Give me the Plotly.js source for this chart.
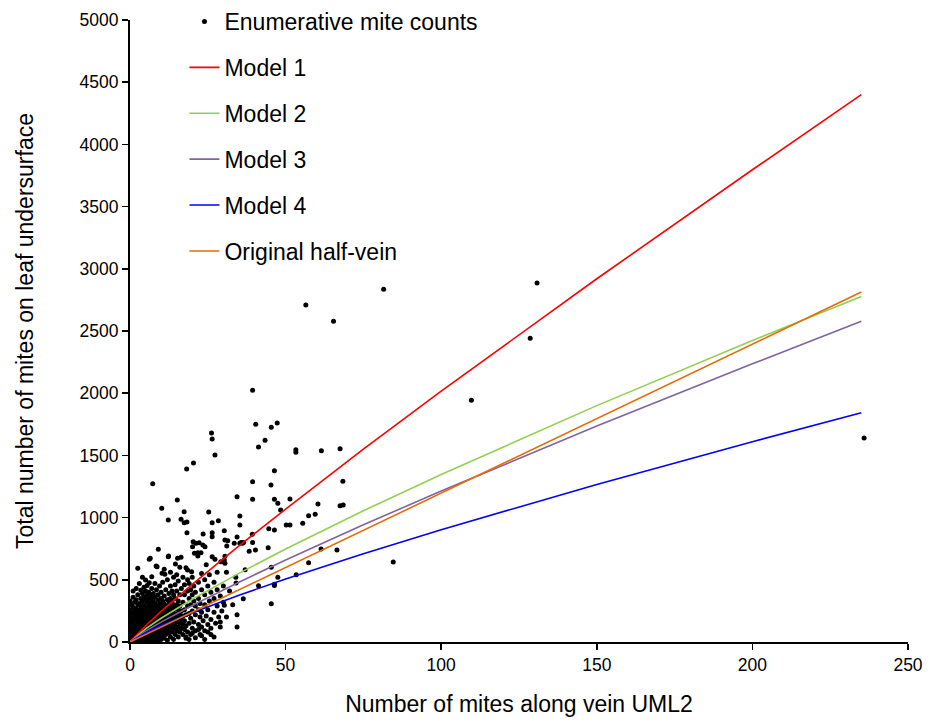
<!DOCTYPE html>
<html>
<head>
<meta charset="utf-8">
<script src="https://cdn.plot.ly/plotly-3.0.1.min.js"></script>
<style>html,body{margin:0;padding:0;background:#fff;}#chart{width:935px;height:723px;}</style>
</head>
<body>
<div id="chart"></div>
<script>
// Enumerative mite counts (x = mites along vein UML2, y = total mites on leaf undersurface)
const countPairs = [
[0,0],[0,20],[0,45],[0,80],[0,120],[0,160],[0,210],[0,260],[0,330],[0.5,10],[0.5,60],[0.5,100],[0.5,140],[0.5,190],[0.5,240],[0.5,300],
[1,0],[1,30],[1,70],[1,110],[1,150],[1,180],[1,230],[1,280],[1,360],[1,410],
[1.5,15],[1.5,50],[1.5,90],[1.5,130],[1.5,200],[1.5,250],[1.5,320],[2,5],[2,40],[2,75],[2,115],[2,170],[2,215],[2,270],[2,340],[2,430],
[2.5,25],[2.5,60],[2.5,95],[2.5,145],[2.5,190],[2.5,235],[2.5,300],[2.5,380],[2.5,592],
[3,10],[3,50],[3,85],[3,125],[3,165],[3,210],[3,255],[3,310],[3,470],[3.5,30],[3.5,70],[3.5,105],[3.5,150],[3.5,195],[3.5,240],[3.5,285],[3.5,350],[3.5,415],
[4,5],[4,45],[4,90],[4,130],[4,175],[4,220],[4,265],[4,330],[4,390],[4,520],
[4.5,20],[4.5,65],[4.5,110],[4.5,155],[4.5,200],[4.5,250],[4.5,300],[4.5,360],[4.5,440],[5,0],[5,40],[5,85],[5,135],[5,180],[5,230],[5,280],[5,340],[5,410],[5,498],
[5.5,25],[5.5,70],[5.5,120],[5.5,160],[5.5,210],[5.5,260],[5.5,320],[5.5,375],[5.5,455],
[6,10],[6,55],[6,100],[6,145],[6,190],[6,240],[6,290],[6,345],[6,400],[6.2,477],[6.2,665],[6.5,30],[6.5,75],[6.5,125],[6.5,170],[6.5,220],[6.5,270],[6.5,315],[6.5,370],[6.5,673],
[7,5],[7,50],[7,95],[7,150],[7,200],[7,250],[7,300],[7,355],[7,430],[7,525],[7.3,1273],
[7.5,25],[7.5,80],[7.5,130],[7.5,175],[7.5,230],[7.5,280],[7.5,330],[7.5,390],[8,10],[8,60],[8,110],[8,160],[8,205],[8,255],[8,310],[8,360],[8,470],[8.4,611],
[8.5,35],[8.5,90],[8.5,140],[8.5,190],[8.5,240],[8.5,290],[8.5,420],[8.7,605],
[9,15],[9,70],[9,120],[9,170],[9,220],[9,270],[9,340],[9,380],[9.1,745],[9.5,45],[9.5,100],[9.5,150],[9.5,200],[9.5,260],[9.5,310],[9.5,450],
[10,20],[10,80],[10,130],[10,185],[10,235],[10,290],[10,350],[10,400],[10.2,1075],[10.3,552],
[10.5,55],[10.5,110],[10.5,165],[10.5,215],[10.5,270],[10.5,330],[10.5,480],[11,30],[11,90],[11,140],[11,200],[11,250],[11,305],[11,370],[11,584],[11.2,544],
[11.5,60],[11.5,120],[11.5,175],[11.5,230],[11.5,290],[11.5,420],[12,15],[12,95],[12,150],[12,210],[12,265],[12,340],[12,500],[12.3,686],[12.3,980],[12.4,691],
[12.5,70],[12.5,130],[12.5,190],[12.5,250],[12.5,310],[12.5,390],[13,40],[13,110],[13,170],[13,225],[13,285],[13,350],[13,450],[13,560],
[13.5,80],[13.5,140],[13.5,200],[13.5,260],[13.5,330],[13.5,410],[14,20],[14,105],[14,170],[14,235],[14,300],[14,380],[14,520],[14.6,627],
[14.5,60],[14.5,130],[14.5,200],[14.5,270],[14.5,350],[14.5,460],[15,90],[15,160],[15,225],[15,300],[15,410],[15,540],[15.2,1141],[15.3,673],
[15.5,40],[15.5,120],[15.5,190],[15.5,260],[15.5,330],[15.5,490],[16,80],[16,150],[16,220],[16,290],[16,380],[16,600],[16.4,681],[16.4,986],
[16.5,110],[16.5,180],[16.5,250],[16.5,430],[17,60],[17,140],[17,210],[17,320],[17,520],[17.4,1048],[17.4,959],
[17.5,100],[17.5,170],[17.5,260],[17.5,380],[17.5,460],[18,30],[18,130],[18,220],[18,597],[18.3,879],[18.3,965],[18.2,1391],[18.5,579],[18.5,80],[18.5,290],[18.5,410],[18.5,500],
[19,150],[19,230],[19,350],[19,470],[19.5,60],[19.5,190],[19.5,300],[19.5,420],[19.8,565],[20,110],[20,250],[20,380],[20,520],[20.1,766],[20.3,806],[20.4,1439],
[20.5,160],[20.5,330],[20.5,450],[20.7,713],[21,90],[21,220],[21,290],[21,400],[21.2,793],[21.8,718],[21.8,691],
[22,140],[22,260],[22,350],[22,480],[22.2,798],[22.5,60],[22.5,200],[22.5,310],[22.8,718],[23,120],[23,240],[23,420],[23,550],[23.4,780],[23.5,868],[23.5,170],
[24,90],[24,300],[24,380],[24,500],[24.1,766],[24.5,210],[24.5,620],[25,140],[25,260],[25,450],[25.3,1045],
[25.5,330],[25.5,540],[26,60],[26,180],[26,400],[26.2,1680],[26.4,1632],[26.4,959],[26.4,879],[26.4,846],[26.4,686],
[27,240],[27,350],[27,480],[27.3,1503],[27.3,665],[27.5,150],[28,290],[28,420],[28,560],[28.4,975],[28.5,200],[29,120],[29,370],[29.2,646],[29.5,250],
[30,320],[30,450],[30.3,895],[30.3,659],[30.3,295],[30.5,633],[30.5,820],[30.5,690],[31.1,772],[31.4,814],[31,560],
[18,40],[19,20],[20,70],[21,35],[22,100],[23,50],[24,20],[25,80],[26,110],[27,40],[29,160],[31,200],[32,410],[33,300],[33.5,793],[34,520],
[34.4,1168],[34.4,844],[34.4,220],[34.4,121],[34.1,474],[35.3,1013],[35.3,940],[35.3,793],[35.7,800],[36.2,793],[36.5,800],[36.4,348],[37,580],
[38.3,729],[39.3,866],[39.4,800],[39.4,1147],[39.4,1289],[39.4,2023],[40.3,740],[40.4,1750],[41.3,1567],[41.3,453],[43.4,1621],
[44.4,758],[44.6,911],[45.3,1262],[45.4,1726],[45.4,600],[45.4,308],[46.4,900],[46.4,1377],[46.4,1147],[46.4,464],[46.4,455],
[47.3,1760],[47.5,1115],[47.5,520],[48.4,1061],[50.2,940],[51.4,940],[51.4,1150],[53.3,1546],[53.3,1525],[53.4,541],[55.5,954],[56.5,2709],
[57.4,1015],[57.4,638],[59.5,1026],[60.4,1109],[61.4,748],[61.5,1538],[65.4,2578],[66.5,740],[67.5,1554],[67.5,1096],[68.5,1101],[68.4,1292],
[81.5,2835],[84.6,643],[109.7,1943],[128.6,2441],[130.8,2886],[235.9,1640]
];
const countsX = countPairs.map(p => p[0]);
const countsY = countPairs.map(p => p[1]);

// Model curves
const modelX  = [0, 5, 10, 20, 35, 50, 75, 100, 150, 200, 235];
const model1Y = [0, 131, 246, 464, 773, 1069, 1550, 2017, 2920, 3796, 4400];
const model2Y = [0, 106, 191, 344, 552, 747, 1055, 1347, 1900, 2423, 2778];
const model3Y = [0, 87, 160, 294, 481, 659, 942, 1214, 1736, 2236, 2578];
const model4Y = [0, 74, 132, 235, 376, 506, 710, 903, 1266, 1610, 1843];
const origX = [0, 235];
const origY = [0, 2813];

const seriesNames = ['Enumerative mite counts', 'Model 1', 'Model 2', 'Model 3', 'Model 4', 'Original half-vein'];
const xTicks = [0, 50, 100, 150, 200, 250];
const yTicks = [0, 500, 1000, 1500, 2000, 2500, 3000, 3500, 4000, 4500, 5000];

const lineW = 1.6;
const traces = [
  {x: countsX, y: countsY, mode: 'markers', type: 'scatter', name: seriesNames[0], legendgroup: 'g0',
   marker: {color: '#000000', size: 5}},
  {x: modelX, y: model1Y, mode: 'lines', type: 'scatter', name: seriesNames[1], legendgroup: 'g1', line: {color: '#FF0000', width: lineW}},
  {x: modelX, y: model2Y, mode: 'lines', type: 'scatter', name: seriesNames[2], legendgroup: 'g2', line: {color: '#92D050', width: lineW}},
  {x: modelX, y: model3Y, mode: 'lines', type: 'scatter', name: seriesNames[3], legendgroup: 'g3', line: {color: '#8064A2', width: lineW}},
  {x: modelX, y: model4Y, mode: 'lines', type: 'scatter', name: seriesNames[4], legendgroup: 'g4', line: {color: '#0000FF', width: lineW}},
  {x: origX, y: origY, mode: 'lines', type: 'scatter', name: seriesNames[5], legendgroup: 'g5', line: {color: '#E46C0A', width: lineW}}
];

const tickFont = {family: '"Liberation Sans", Arial, sans-serif', size: 17.5, color: '#000'};
const titleFont = {family: '"Liberation Sans", Arial, sans-serif', size: 23, color: '#000'};

const layout = {
  width: 935, height: 723,
  margin: {l: 130, r: 27, t: 20, b: 81, autoexpand: false},
  paper_bgcolor: '#fff', plot_bgcolor: '#fff',
  showlegend: true,
  legend: {x: 0.07, xref: 'paper', y: 1, yref: 'container', xanchor: 'left', yanchor: 'top', bgcolor: 'rgba(0,0,0,0)',
           font: {family: '"Liberation Sans", Arial, sans-serif', size: 23, color: '#000'},
           tracegroupgap: 13, traceorder: 'grouped'},
  xaxis: {range: [0, 250], tickvals: xTicks, ticktext: xTicks.map(String),
          showgrid: false, zeroline: false, showline: true, linecolor: '#000', linewidth: 2,
          ticks: 'outside', ticklen: 6, tickwidth: 1.5, tickcolor: '#000', tickfont: tickFont,
          title: {text: 'Number of mites along vein UML2', font: titleFont, standoff: 22}},
  yaxis: {range: [0, 5000], tickvals: yTicks, ticktext: yTicks.map(String),
          showgrid: false, zeroline: false, showline: true, linecolor: '#000', linewidth: 2,
          ticks: 'outside', ticklen: 6, tickwidth: 1.5, tickcolor: '#000', tickfont: tickFont,
          title: {text: 'Total number of mites on leaf undersurface', font: titleFont, standoff: 40}}
};

Plotly.newPlot('chart', traces, layout, {displayModeBar: false, staticPlot: true});
</script>
</body>
</html>
